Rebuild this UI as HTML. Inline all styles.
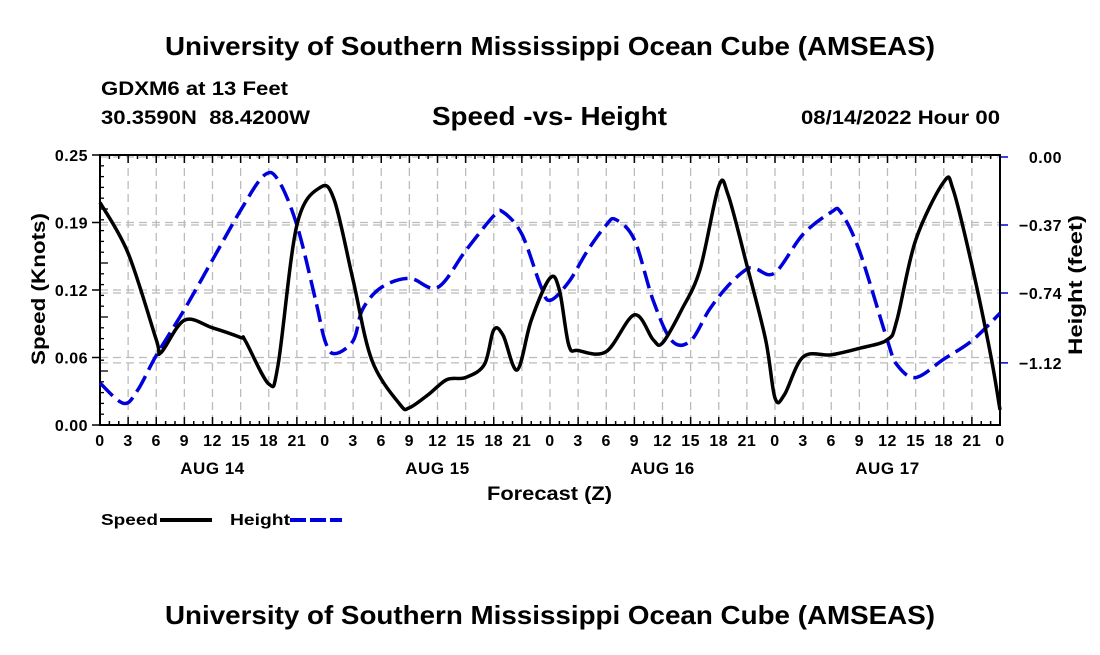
<!DOCTYPE html>
<html><head><meta charset="utf-8"><style>
body{margin:0;background:#fff;}
svg text{font-family:"Liberation Sans",sans-serif;font-weight:bold;fill:#000;}
</style></head><body>
<svg id="c" width="1100" height="650">
<text x="165" y="55" font-size="26" textLength="770" lengthAdjust="spacingAndGlyphs">University of Southern Mississippi Ocean Cube (AMSEAS)</text>
<text x="101" y="95" font-size="19" textLength="187" lengthAdjust="spacingAndGlyphs">GDXM6 at 13 Feet</text>
<text x="101" y="124" font-size="19" textLength="209" lengthAdjust="spacingAndGlyphs" xml:space="preserve">30.3590N  88.4200W</text>
<text x="432" y="125" font-size="26" textLength="235" lengthAdjust="spacingAndGlyphs">Speed -vs- Height</text>
<text x="801" y="124" font-size="19" textLength="199" lengthAdjust="spacingAndGlyphs">08/14/2022 Hour 00</text>
<text x="487" y="500" font-size="19" textLength="125" lengthAdjust="spacingAndGlyphs">Forecast (Z)</text>
<text transform="translate(45,365) rotate(-90)" font-size="19" textLength="152" lengthAdjust="spacingAndGlyphs">Speed (Knots)</text>
<text transform="translate(1082,355) rotate(-90)" font-size="19" textLength="140" lengthAdjust="spacingAndGlyphs">Height (feet)</text>
<g>
<text x="101" y="525" font-size="16" textLength="57" lengthAdjust="spacingAndGlyphs">Speed</text>
<line x1="160" y1="520" x2="212" y2="520" stroke="#000" stroke-width="4"/>
<text x="230" y="525" font-size="16" textLength="60" lengthAdjust="spacingAndGlyphs">Height</text>
<line x1="290" y1="520" x2="342" y2="520" stroke="#0000dd" stroke-width="4" stroke-dasharray="16,4"/>
</g>
<text x="165" y="624" font-size="26" textLength="770" lengthAdjust="spacingAndGlyphs">University of Southern Mississippi Ocean Cube (AMSEAS)</text>
<g id="plot"></g>
</svg>
<script>
const speedHours=[0,3,6,6.5,9,12,15,15.5,18,19,21,23.5,25,27,29,32,33,35,37,39,41,42,43,44.5,46,48,49,50,51,54,57,59,60,62,64,66,67,69,71,72,73,75,78,81,84,85,87,90,91,93,95,96];
const speedValues=[.206,.159,.079,.067,.097,.090,.081,.078,.038,.056,.185,.220,.208,.134,.060,.019,.016,.028,.042,.044,.056,.088,.083,.051,.097,.136,.125,.074,.069,.068,.102,.079,.076,.106,.144,.221,.213,.148,.079,.025,.028,.063,.065,.071,.079,.097,.171,.225,.218,.148,.065,.014];
const heightHours=[0,2.5,4,6,9,12,15,17.5,19,21,23,24,25,27,28,30,33,36,39,42,43,45,47,48,50,52,54,55,57,59,61,63,65,67,69,70,72,75,78,79,81,84,85,87,90,93,96];
const heightValues=[-1.23,-1.34,-1.27,-1.08,-0.83,-0.56,-0.29,-0.10,-0.125,-0.37,-0.78,-1.00,-1.07,-1.00,-0.83,-0.71,-0.66,-0.71,-0.51,-0.32,-0.30,-0.42,-0.70,-0.78,-0.68,-0.51,-0.37,-0.34,-0.45,-0.78,-1.00,-1.00,-0.83,-0.70,-0.61,-0.61,-0.63,-0.42,-0.30,-0.30,-0.51,-1.00,-1.13,-1.20,-1.10,-1.00,-0.85];
const leftTicks=[0,0.0625,0.125,0.1875,0.25];
const leftTickLabels=["0.00","0.06","0.12","0.19","0.25"];
const rightTicks=[0,-0.37,-0.74,-1.12];
const rightTickLabels=["0.00","\u22120.37","\u22120.74","\u22121.12"];
const hourLabels=["0","3","6","9","12","15","18","21"];
const dayLabels=["AUG 14","AUG 15","AUG 16","AUG 17"];

const X0=100,X1=1000,YT=155,YB=425;
const x=h=>X0+h*(X1-X0)/96;
const yL=v=>YB-v*(YB-YT)/0.25;
const yR=v=>157-v*183.8;
const NS="http://www.w3.org/2000/svg";
const g=document.getElementById('plot');
function mk(t,a){const e=document.createElementNS(NS,t);for(const k in a)e.setAttribute(k,a[k]);g.appendChild(e);return e;}
for(let h=3;h<96;h+=3){const e=mk('line',{x1:x(h),x2:x(h),y1:YT,y2:YB,stroke:'#bbb','stroke-width':1.3,'stroke-dasharray':'8,5'});

}
leftTicks.forEach((v,i)=>{if(i>0){const e=mk('line',{x1:X0,x2:X1,y1:yL(v),y2:yL(v),stroke:'#bbb','stroke-width':1.3,'stroke-dasharray':'8,5'});

}
const t=mk('text',{x:88,y:yL(v)+6,'font-size':16,'text-anchor':'end','letter-spacing':0.5});t.textContent=leftTickLabels[i];

});
rightTicks.forEach((v,i)=>{const e=mk('line',{x1:X0,x2:X1,y1:yR(v),y2:yR(v),stroke:'#bbb','stroke-width':1.3,'stroke-dasharray':'8,5'});


mk('line',{x1:X1,x2:X1+8,y1:yR(v),y2:yR(v),stroke:'#0000cc','stroke-width':1.5});
const t=mk('text',{x:1062,y:yR(v)+6,'font-size':16,'text-anchor':'end','letter-spacing':0.5});t.textContent=rightTickLabels[i];

});
for(let h=0;h<=96;h++){const len=h%3==0?8:4;
mk('line',{x1:x(h),x2:x(h),y1:YB,y2:YB-len,stroke:'#000','stroke-width':1.5});
mk('line',{x1:x(h),x2:x(h),y1:YT,y2:YT+len,stroke:'#000','stroke-width':1.5});
if(h%3==0){const t=mk('text',{x:x(h),y:446,'font-size':16,'text-anchor':'middle','letter-spacing':0.5});t.textContent=h==96?"0":hourLabels[(h%24)/3];

}}
dayLabels.forEach((d,i)=>{const t=mk('text',{x:x(12+24*i),y:474,'font-size':17,'text-anchor':'middle','letter-spacing':0.5});t.textContent=d;

});
for(let i=1;i<25;i++){const v=i*0.01;mk('line',{x1:X0,x2:X0+(i%5==0?8:4),y1:yL(v),y2:yL(v),stroke:'#000','stroke-width':1.3});}
leftTicks.forEach(v=>mk('line',{x1:X0-8,x2:X0,y1:yL(v),y2:yL(v),stroke:'#000','stroke-width':1.5}));
const fr=mk('rect',{x:X0,y:YT,width:X1-X0,height:YB-YT,fill:'none',stroke:'#000','stroke-width':2});


function path(xs,ys){const P=xs.map((h,i)=>[x(h),ys[i]]);let d='M'+P[0][0]+','+P[0][1];
for(let i=0;i<P.length-1;i++){const p0=P[Math.max(0,i-1)],p1=P[i],p2=P[i+1],p3=P[Math.min(P.length-1,i+2)];
d+=' C'+(p1[0]+(p2[0]-p0[0])/6)+','+(p1[1]+(p2[1]-p0[1])/6)+' '+(p2[0]-(p3[0]-p1[0])/6)+','+(p2[1]-(p3[1]-p1[1])/6)+' '+p2[0]+','+p2[1];}return d;}
const hp=mk('path',{d:path(heightHours,heightValues.map(yR)),fill:'none',stroke:'#0000dd','stroke-width':3.5,'stroke-dasharray':'18,7'});


const sp=mk('path',{d:path(speedHours,speedValues.map(yL)),fill:'none',stroke:'#000','stroke-width':3.5});


</script>
</body></html>
